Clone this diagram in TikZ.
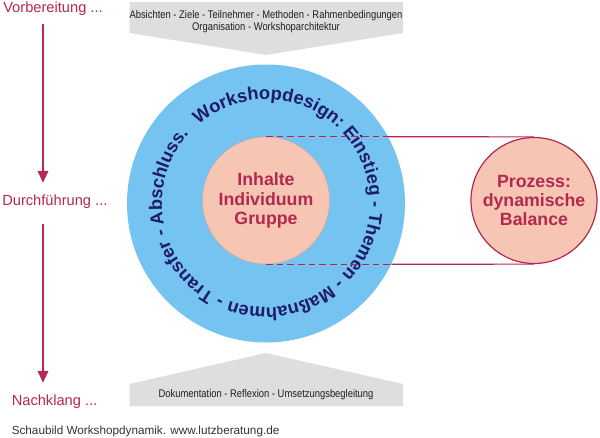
\documentclass[tikz,border=0pt]{standalone}
\usepackage{fontspec}
\setmainfont{Liberation Sans}
\newfontfamily\narrowfont[FakeStretch=0.85]{Liberation Sans}
\usepackage{tikz}
\usepackage{xcolor}
\usetikzlibrary{arrows.meta, positioning, calc, decorations.text}
\definecolor{crimson}{HTML}{B3294E}
\definecolor{ringblue}{HTML}{74C3F0}
\definecolor{salmon}{HTML}{F6C5B3}
\definecolor{salmonedge}{HTML}{E3A79B}
\definecolor{navy}{HTML}{201A6C}
\definecolor{shapegray}{HTML}{DEDEDE}
\definecolor{darktext}{HTML}{1E1E1E}
\definecolor{footgray}{HTML}{333333}

\begin{document}
\begin{tikzpicture}[x=0.75pt, y=0.75pt,
    phase/.style={anchor=base west, inner sep=0pt, font=\fontsize{11}{13}\selectfont, text=crimson},
    flow/.style={crimson, line width=1.2pt, -{Triangle[width=8pt, length=9pt]}},
    frame/.style={fill=shapegray},
    frametext/.style={inner sep=0pt, align=center, font=\narrowfont\fontsize{8.3}{9}\selectfont, text=darktext},
    ring/.style={circle, fill=ringblue, minimum size=208.5pt, inner sep=0pt},
    innerdisc/.style={circle, fill=salmon, draw=salmonedge, line width=0.4pt, minimum size=95.25pt, inner sep=0pt,
        align=center, font=\bfseries\fontsize{13.3}{14.8}\selectfont, text=crimson},
    processdisc/.style={circle, fill=salmon, draw=crimson, line width=0.9pt, minimum size=94.5pt, inner sep=0pt,
        align=center, font=\bfseries\fontsize{13.3}{14.3}\selectfont, text=crimson},
    link/.style={crimson, line width=0.9pt},
    dashlink/.style={link, dash pattern=on 5pt off 3pt}]
    \useasboundingbox (0,0) rectangle (600,437);

    \fill[frame] (129.5,435) -- (403,435) -- (403,404) -- (266,382) -- (129.5,404) -- cycle;
    \fill[frame] (266,84) -- (403,53) -- (403,31) -- (129.5,31) -- (129.5,53) -- cycle;
    \node[frametext] (vorgaben) at (266,415.5) {Absichten - Ziele - Teilnehmer - Methoden - Rahmenbedingungen\\Organisation - Workshoparchitektur};
    \node[frametext, anchor=base] (nachsorge) at (266,40) {Dokumentation - Reflexion - Umsetzungsbegleitung};

    \node[phase] (vorb) at (3,425) {Vorbereitung ...};
    \node[phase] (durch) at (2,232) {Durchführung ...};
    \node[phase] (nach) at (11.5,32) {Nachklang ...};
    \coordinate (ax) at (43,0);
    \draw[flow, shorten <=6.75pt, shorten >=8.5pt] (vorb.south -| ax) -- (durch.north -| ax);
    \draw[flow, shorten <=12pt, shorten >=8.5pt] (durch.south -| ax) -- (nach.north -| ax);

    \node[ring] (ring) at (266,233.5) {};
    \path[decorate, decoration={text along path, text align=left,
        text={|\bfseries\fontsize{13.65}{15}\selectfont\color{navy}|Workshopdesign: Einstieg - Themen - Maßnahmen - Transfer - Abschluss.}}]
        (ring.center) ++(130.5:104) arc[start angle=130.5, end angle=-229.5, radius=104];
    \node[innerdisc] (inhalt) at (266,236.5) {Inhalte\\Individuum\\Gruppe};
    \node[processdisc] (prozess) at (534,236.5) {Prozess:\\dynamische\\Balance};

    \coordinate (rimtop) at ($(ring.center)+(28.6:139)$);
    \coordinate (rimbot) at ($(ring.center)+(-25.6:139)$);
    \draw[dashlink] (inhalt.north) -- (inhalt.north -| rimtop);
    \draw[link] (inhalt.north -| rimtop) -- (prozess.north);
    \draw[dashlink] (inhalt.south) -- (inhalt.south -| rimbot);
    \draw[link] (inhalt.south -| rimbot) -- (prozess.south);

    \node[anchor=base west, inner sep=0pt, font=\fontsize{8.8}{10}\selectfont, text=footgray] (quelle) at (11.5,3) {Schaubild Workshopdynamik. www.lutzberatung.de};
\end{tikzpicture}
\end{document}
